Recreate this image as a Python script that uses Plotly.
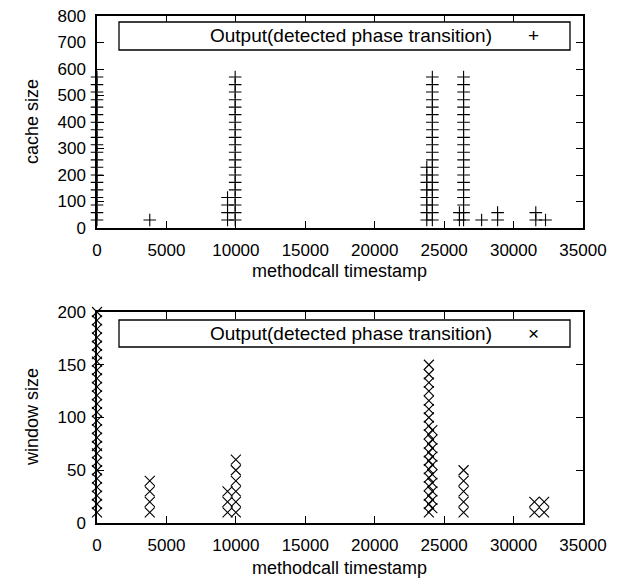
import plotly.graph_objects as go

W, H = 626, 583

# ---- data: top panel (cache size) ----
cache_ts = (
    [0] * 20 + [3800] + [9400] * 4 + [9950] * 20 + [23750] * 8 + [24150] * 20
    + [26100] * 2 + [26400] * 20 + [27700] + [28850] * 2 + [31600] * 2 + [32300]
)
col_full = [30, 58, 87, 115, 144, 172, 200, 229, 257, 286, 314, 342, 371, 399, 428, 456, 484, 513, 541, 570]
cache_size = (
    col_full + [30] + [30, 58, 87, 115] + col_full + [30, 58, 87, 115, 144, 172, 200, 229] + col_full
    + [30, 58] + col_full + [30] + [30, 58] + [30, 58] + [30]
)

# ---- data: bottom panel (window size) ----
window_ts = (
    [0] * 25 + [3800] * 4 + [9400] * 3 + [10000] * 6 + [23900] * 18 + [24150] * 10
    + [26400] * 5 + [31500] * 2 + [32200] * 2
)
window_size = (
    [10, 18, 26, 34, 42, 50, 58, 66, 73, 81, 89, 97, 105, 113, 121, 129, 137, 145, 153, 160, 168, 176, 184, 192, 200]
    + [10, 20, 30, 40]
    + [10, 20, 30]
    + [10, 20, 30, 40, 50, 60]
    + [10, 18, 26, 35, 43, 51, 59, 67, 75, 84, 92, 100, 108, 116, 125, 133, 141, 150]
    + [14, 22, 30, 38, 46, 55, 63, 71, 79, 88]
    + [10, 20, 30, 40, 50]
    + [10, 20]
    + [10, 20]
)

legend_label = "Output(detected phase transition)"
x_title = "methodcall timestamp"
FONT = "Liberation Sans, Arial, sans-serif"


def px(x):
    return x / W


def py(y):
    return 1 - y / H


fig = go.Figure()
fig.add_trace(go.Scatter(
    x=cache_ts, y=cache_size, mode="markers", xaxis="x", yaxis="y",
    marker=dict(symbol="cross-thin", size=9, line=dict(color="black", width=1.1)),
    cliponaxis=False, showlegend=False))
fig.add_trace(go.Scatter(
    x=window_ts, y=window_size, mode="markers", xaxis="x2", yaxis="y2",
    marker=dict(symbol="x-thin", size=10, line=dict(color="black", width=1.1)),
    cliponaxis=False, showlegend=False))

axis_common = dict(
    showline=True, linecolor="black", linewidth=1.5, mirror="allticks",
    ticks="inside", ticklen=7, tickwidth=1.3, tickcolor="black",
    showgrid=False, zeroline=False, automargin=False,
    tickfont=dict(family=FONT, size=17, color="black"),
)
xd = [px(97), px(583)]
fig.update_layout(
    width=W, height=H, margin=dict(l=0, r=0, t=0, b=0),
    paper_bgcolor="white", plot_bgcolor="white",
    font=dict(family=FONT, color="black"),
    xaxis=dict(domain=xd, range=[0, 35000], dtick=5000, tickformat="d", anchor="y",
               ticklabelstandoff=6, **axis_common),
    yaxis=dict(domain=[py(228), py(16)], range=[0, 800], dtick=100, anchor="x",
               ticklabelstandoff=6, **axis_common),
    xaxis2=dict(domain=xd, range=[0, 35000], dtick=5000, tickformat="d", anchor="y2",
                ticklabelstandoff=6, **axis_common),
    yaxis2=dict(domain=[py(523), py(312)], range=[0, 200], dtick=50, anchor="x2",
                ticklabelstandoff=6, **axis_common),
)

shapes = []
annotations = []
for (top, bot, sym, ycap, ylabel, ytitle_y) in [
    (22, 50, "+", 271, "cache size", 122),
    (320, 347, "×", 568, "window size", 417),
]:
    shapes.append(dict(type="rect", xref="paper", yref="paper",
                       x0=px(119), x1=px(570), y0=py(bot), y1=py(top),
                       line=dict(color="black", width=1.3), fillcolor="white", layer="above"))
    annotations.append(dict(xref="paper", yref="paper", x=px(494), y=py((top + bot) / 2),
                            text=legend_label, showarrow=False, xanchor="right", yanchor="middle",
                            font=dict(family=FONT, size=19, color="black")))
    annotations.append(dict(xref="paper", yref="paper", x=px(533), y=py((top + bot) / 2),
                            text=sym, showarrow=False, xanchor="center", yanchor="middle",
                            font=dict(family=FONT, size=19, color="black")))
    annotations.append(dict(xref="paper", yref="paper", x=px(340), y=py(ycap),
                            text=x_title, showarrow=False, xanchor="center", yanchor="middle",
                            font=dict(family=FONT, size=18, color="black")))
    annotations.append(dict(xref="paper", yref="paper", x=px(32), y=py(ytitle_y),
                            text=ylabel, showarrow=False, textangle=-90, xanchor="center", yanchor="middle",
                            font=dict(family=FONT, size=18, color="black")))
fig.update_layout(shapes=shapes, annotations=annotations)

fig.write_html("out.html")
